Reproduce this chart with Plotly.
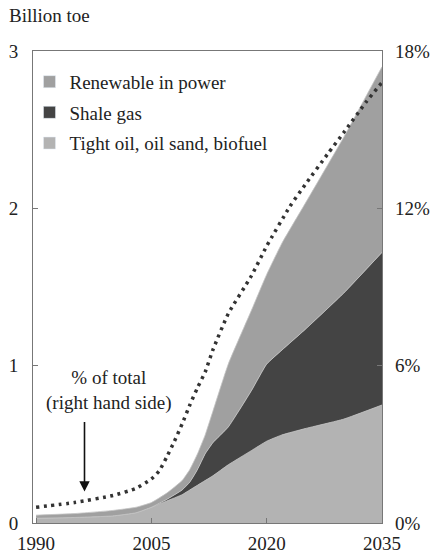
import plotly.graph_objects as go

years = [1990, 1995, 2000, 2003, 2005, 2007, 2009, 2010, 2011, 2012, 2013, 2015, 2018, 2020, 2022, 2025, 2030, 2035]
tight_oil = [0.03, 0.035, 0.045, 0.065, 0.10, 0.14, 0.18, 0.21, 0.24, 0.27, 0.30, 0.37, 0.46, 0.52, 0.56, 0.60, 0.66, 0.75]
shale_gas = [0.0, 0.0, 0.0, 0.0, 0.0, 0.01, 0.03, 0.05, 0.10, 0.17, 0.21, 0.24, 0.38, 0.49, 0.54, 0.63, 0.80, 0.97]
renewable = [0.02, 0.025, 0.035, 0.035, 0.03, 0.04, 0.06, 0.08, 0.10, 0.12, 0.20, 0.40, 0.51, 0.57, 0.68, 0.80, 0.99, 1.18]

pct_years = [1990, 1995, 2000, 2003, 2005, 2006, 2007, 2008, 2009, 2010, 2011, 2012, 2013, 2015, 2018, 2020, 2023, 2025, 2028, 2030, 2033, 2035]
pct_total = [0.6, 0.78, 1.05, 1.32, 1.68, 1.98, 2.52, 3.12, 3.78, 4.5, 5.16, 5.76, 6.6, 7.98, 9.42, 10.56, 12.06, 12.9, 14.1, 14.88, 16.08, 16.8]

left_ticks = [0, 1, 2, 3]
right_ticks = [0, 6, 12, 18]
right_labels = ["0%", "6%", "12%", "18%"]
x_ticks = [1990, 2005, 2020, 2035]

series_names = ["Renewable in power", "Shale gas", "Tight oil, oil sand, biofuel"]
colors = {"Renewable in power": "#a0a0a0", "Shale gas": "#444444", "Tight oil, oil sand, biofuel": "#b3b3b3"}

FONT = "Liberation Serif"
TXT = "#222222"

fig = go.Figure()

for name, vals in [("Tight oil, oil sand, biofuel", tight_oil), ("Shale gas", shale_gas), ("Renewable in power", renewable)]:
    fig.add_trace(go.Scatter(
        x=years, y=vals, name=name, mode="lines", stackgroup="one",
        line=dict(width=0.8, color="#c4c4c4", shape="spline", smoothing=0.4), fillcolor=colors[name],
        showlegend=False, hoverinfo="x+y"))

fig.add_trace(go.Scatter(
    x=pct_years, y=pct_total, yaxis="y2", mode="lines", showlegend=False,
    line=dict(color="#333333", width=3.5, dash="3px,4.5px", shape="spline", smoothing=0.5)))

for name in series_names:
    fig.add_trace(go.Bar(x=[None], y=[None], name=name, marker=dict(color=colors[name]),
                         legendgroup=name, showlegend=True))

fig.add_annotation(x=1996.3, y=0.20, xref="x", yref="y", ax=0, ay=-71, text="",
                   showarrow=True, arrowhead=2, arrowsize=1.3, arrowwidth=1.6, arrowcolor="#111111")
fig.add_annotation(x=1999.5, y=0.84, xref="x", yref="y", showarrow=False,
                   text="% of total<br>(right hand side)", font=dict(family=FONT, size=19, color=TXT),
                   align="center")
fig.add_annotation(x=-0.075, y=1.075, xref="paper", yref="paper", xanchor="left", yanchor="middle",
                   showarrow=False, text="Billion toe", font=dict(family=FONT, size=19, color=TXT))

axis_line = "#777777"
fig.update_layout(
    width=441, height=554,
    margin=dict(l=33, r=59, t=51, b=31, autoexpand=False),
    paper_bgcolor="white", plot_bgcolor="white",
    font=dict(family=FONT, size=19, color=TXT),
    xaxis=dict(range=[1989.6, 2035], tickvals=x_ticks, ticks="inside", ticklen=5,
               tickcolor=axis_line, showline=True, linecolor=axis_line, linewidth=1, mirror=True,
               showgrid=False, zeroline=False, ticklabelstandoff=3, automargin=False),
    yaxis=dict(range=[0, 3], tickvals=left_ticks, ticks="inside", ticklen=5, tickcolor=axis_line,
               showline=True, linecolor=axis_line, linewidth=1, mirror=True, showgrid=False,
               zeroline=False, ticklabelstandoff=10, automargin=False),
    yaxis2=dict(range=[0, 18], tickvals=right_ticks, ticktext=right_labels, overlaying="y", side="right",
                ticks="inside", ticklen=5, tickcolor=axis_line, showgrid=False, zeroline=False,
                showline=False, ticklabelstandoff=12, automargin=False),
    legend=dict(x=-0.01, y=0.975, xanchor="left", yanchor="top", bgcolor="rgba(0,0,0,0)",
                font=dict(family=FONT, size=19, color=TXT), traceorder="grouped", tracegroupgap=3,
                itemwidth=30),
    barmode="overlay",
)

fig.write_html("out.html", config={"displayModeBar": False},
               post_script="document.body.style.margin='0';document.body.style.overflow='hidden';")
